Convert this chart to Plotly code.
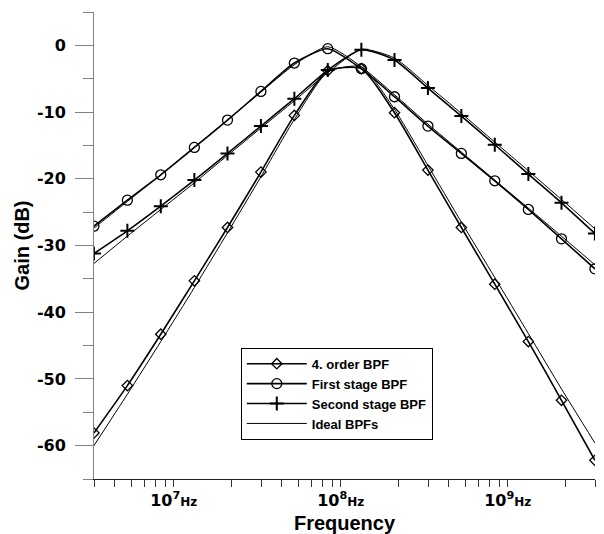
import plotly.graph_objects as go

freq = [3.33e6, 5.28e6, 8.37e6, 1.33e7, 2.10e7, 3.33e7, 5.28e7, 8.37e7,
        1.33e8, 2.10e8, 3.33e8, 5.28e8, 8.37e8, 1.33e9, 2.10e9, 3.33e9]

order4 = [-58.1, -51.0, -43.3, -35.3, -27.3, -19.0, -10.5, -3.8,
          -3.5, -10.1, -18.7, -27.3, -35.8, -44.4, -53.2, -62.2]
first_stage = [-27.1, -23.2, -19.4, -15.3, -11.2, -6.9, -2.65, -0.5,
               -3.5, -7.7, -12.1, -16.2, -20.3, -24.6, -29.0, -33.5]
second_stage = [-31.2, -27.8, -24.1, -20.2, -16.2, -12.1, -8.0, -3.7,
                -0.65, -2.2, -6.4, -10.6, -14.9, -19.3, -23.6, -28.2]

ideal_order4 = [-60.0, -52.3, -44.4, -36.3, -28.1, -19.7, -11.1, -4.0,
                -3.2, -9.6, -18.0, -26.5, -34.8, -43.2, -51.5, -59.6]
ideal_first = [-27.4, -23.4, -19.4, -15.3, -11.2, -7.0, -2.9, -0.2,
               -3.2, -7.4, -11.8, -16.0, -20.2, -24.4, -28.6, -32.9]
ideal_second = [-32.7, -28.6, -24.6, -20.6, -16.5, -12.4, -8.3, -4.1,
                -0.6, -1.9, -6.0, -10.2, -14.5, -18.8, -23.1, -27.5]

# y ticks
y_major = [-60, -50, -40, -30, -20, -10, 0]
y_major_text = ["-60", "-50", "-40", "-30", "-20", "-10", "0"]
y_minor = [-65, -55, -45, -35, -25, -15, -5, 5]

# x tick marks: (10/9)*k*10^n as drawn by the original software
x_minor_k = {6: range(3, 10), 7: range(2, 10), 8: range(2, 10), 9: range(2, 4)}
x_label_exp = [7, 8, 9]

tickvals, ticktext = [], []
for n, ks in x_minor_k.items():
    for k in ks:
        v = (10.0 / 9.0) * k * 10 ** n
        tickvals.append(v)
        lab = ""
        for e in x_label_exp:
            if abs(v - 10 ** e) / 10 ** e < 1e-6:
                lab = "10<sup>%d</sup><span style='font-size:12px'>Hz</span>" % e
        ticktext.append(lab)

fig = go.Figure()

ideal_style = dict(color="black", width=1, shape="spline", smoothing=0.6)
for i, ys in enumerate([ideal_order4, ideal_first, ideal_second]):
    fig.add_trace(go.Scatter(
        x=freq, y=ys, mode="lines", line=ideal_style,
        name="Ideal BPFs", legendgroup="ideal", showlegend=(i == 0),
        legendrank=4))

fig.add_trace(go.Scatter(
    x=freq, y=order4, mode="lines+markers", name="4. order BPF",
    line=dict(color="black", width=1.6, shape="spline", smoothing=0.6),
    marker=dict(symbol="diamond-open", size=8, color="black",
                line=dict(width=1.3, color="black")),
    legendrank=1))
fig.add_trace(go.Scatter(
    x=freq, y=first_stage, mode="lines+markers", name="First stage BPF",
    line=dict(color="black", width=1.6, shape="spline", smoothing=0.6),
    marker=dict(symbol="circle-open", size=10, color="black",
                line=dict(width=1.3, color="black")),
    legendrank=2))
fig.add_trace(go.Scatter(
    x=freq, y=second_stage, mode="lines+markers", name="Second stage BPF",
    line=dict(color="black", width=1.6, shape="spline", smoothing=0.6),
    marker=dict(symbol="cross-thin-open", size=10, color="black",
                line=dict(width=2, color="black")),
    legendrank=3))

tick_font = dict(family="DejaVu Sans", size=16, color="black", weight="bold")
title_font = dict(family="Liberation Sans, Arial", size=20, color="black", weight="bold")

fig.update_layout(
    width=604, height=534,
    margin=dict(l=94, r=9, t=12, b=55),
    paper_bgcolor="white", plot_bgcolor="white",
    showlegend=True,
    legend=dict(x=0.293, y=0.281, xanchor="left", yanchor="top",
                bgcolor="white", bordercolor="black", borderwidth=1,
                font=dict(family="Liberation Sans, Arial", size=13,
                          color="black", weight="bold"),
                itemwidth=60, traceorder="normal"),
    xaxis=dict(type="log", range=[6.5229, 9.5229],
               tickmode="array", tickvals=tickvals, ticktext=ticktext,
               tickangle=0, automargin=False,
               ticks="outside", ticklen=7, tickwidth=1, tickcolor="#333",
               showline=True, linecolor="#222", linewidth=1,
               showgrid=False, zeroline=False,
               tickfont=tick_font, ticklabelstandoff=0,
               title=dict(text="Frequency", font=title_font, standoff=10)),
    yaxis=dict(range=[-65, 5], tickmode="array",
               tickvals=y_major, ticktext=y_major_text, automargin=False,
               ticks="outside", ticklen=18, tickwidth=1, tickcolor="#808080",
               showline=True, linecolor="#808080", linewidth=1,
               showgrid=False, zeroline=False,
               tickfont=tick_font, ticklabelstandoff=6,
               minor=dict(tickmode="array", tickvals=y_minor,
                          ticks="outside", ticklen=10,
                          tickcolor="#808080", tickwidth=1, showgrid=False),
               title=dict(text="Gain (dB)", font=title_font, standoff=1)),
)

fig.write_html("out.html")
